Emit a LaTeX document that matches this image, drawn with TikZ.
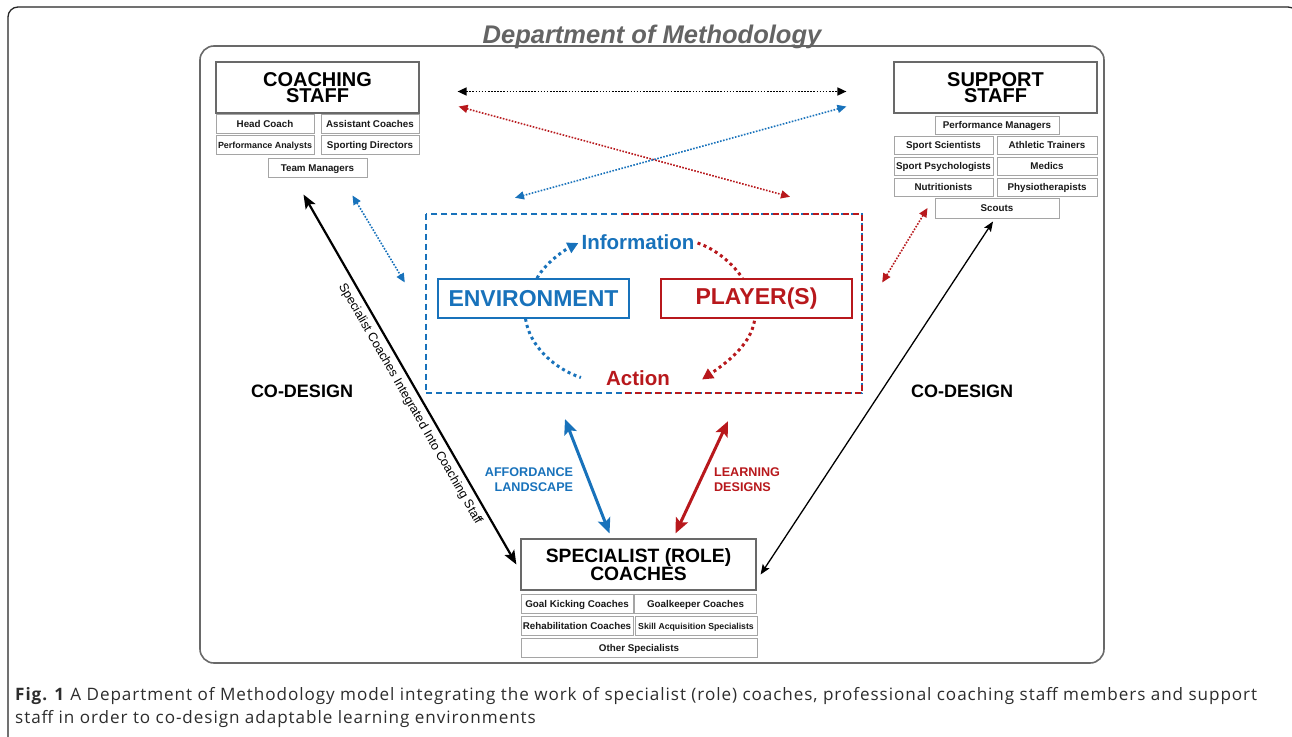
\documentclass[tikz,border=0pt]{standalone}
\usepackage{fontspec}
\setmainfont{Liberation Sans}
\newfontfamily\capfont[LetterSpace=5.5]{Open Sans}
\usetikzlibrary{arrows.meta,calc}
\definecolor{envblue}{RGB}{24,114,187}
\definecolor{plred}{RGB}{184,24,28}
\definecolor{framegray}{RGB}{105,105,105}
\definecolor{subgray}{RGB}{165,165,165}
\definecolor{titlegray}{RGB}{100,100,100}
\definecolor{capgray}{RGB}{45,45,45}
\tikzset{
  mainbox/.style={draw=framegray, line width=1.2pt, fill=white, inner sep=0pt, align=center,
    minimum width=203, minimum height=51, font=\fontsize{20}{16}\selectfont\bfseries},
  subbox/.style={draw=subgray, line width=1pt, inner sep=0pt, minimum height=19,
    text height=7pt, text depth=0pt,
    text=black!90, font=\fontsize{9.8}{11}\selectfont\bfseries},
  loopbox/.style={line width=1.5pt, inner sep=0pt, minimum width=191, minimum height=39,
    font=\fontsize{23}{26}\selectfont\bfseries},
  dotthin/.style={line width=1.6pt, dash pattern=on 1.6pt off 1.5pt,
    {Triangle[length=9pt,width=8pt]}-{Triangle[length=9pt,width=8pt]}},
  dotthick/.style={line width=3pt, dash pattern=on 3pt off 3.4pt},
  loopdash/.style={line width=2.3pt, dash pattern=on 6pt off 4pt},
  bigarrow/.style={line width=3pt, {Stealth[length=15pt,width=13pt,inset=3pt]}-{Stealth[length=15pt,width=13pt,inset=3pt]}},
  labelfont/.style={font=\fontsize{12.6}{15.5}\selectfont\bfseries},
  captext/.style={anchor=base west, inner sep=0pt, text=capgray, font=\capfont\fontsize{17.1}{20}\selectfont},
}
\begin{document}
\begin{tikzpicture}[x=1pt,y=-1pt]
\useasboundingbox (0,0) rectangle (1292,736);
\clip (0,0) rectangle (1292,736);
\fill[white] (0,0) rectangle (1292,736);

% outer page frame
\draw[line width=1.3pt, black!85, rounded corners=10pt] (8,7) rectangle (1298,760);

% department frame and title
\draw[framegray, line width=1.6pt, rounded corners=14pt] (200,46) rectangle (1104,663);
\node[anchor=base, inner sep=0pt, text=titlegray, font=\fontsize{25.5}{30}\selectfont\bfseries\itshape] (title) at (652,43) {Department of Methodology};

% coaching staff
\node[mainbox] (coach) at (317.5,87.5) {COACHING\\STAFF};
\node[subbox, minimum width=98] (hc) at (265,123.5) {Head Coach};
\node[subbox, minimum width=98] (ac) at (370,123.5) {Assistant Coaches};
\node[subbox, minimum width=98, font=\fontsize{8.9}{11}\selectfont\bfseries] (pa) at (265,144.5) {Performance Analysts};
\node[subbox, minimum width=98] (sd) at (370,144.5) {Sporting Directors};
\node[subbox, minimum width=99] (tm) at (317.5,167.5) {Team Managers};

% support staff
\node[mainbox] (support) at (995.5,87.5) {SUPPORT\\STAFF};
\node[subbox, minimum width=124, minimum height=18] (pm) at (997,125) {Performance Managers};
\node[subbox, minimum width=99, minimum height=18] (ss) at (943.5,145) {Sport Scientists};
\node[subbox, minimum width=100, minimum height=18] (at) at (1047,145) {Athletic Trainers};
\node[subbox, minimum width=99, minimum height=18] (sp) at (943.5,166) {Sport Psychologists};
\node[subbox, minimum width=100, minimum height=18] (md) at (1047,166) {Medics};
\node[subbox, minimum width=99, minimum height=18] (nu) at (943.5,187) {Nutritionists};
\node[subbox, minimum width=100, minimum height=18] (ph) at (1047,187) {Physiotherapists};
\node[subbox, minimum width=124, minimum height=20] (scouts) at (997,208) {Scouts};

% specialist coaches
\node[mainbox, minimum width=235, font=\fontsize{19.3}{16}\selectfont\bfseries] (spec) at (638.5,564.5) {SPECIALIST (ROLE)\\COACHES};
\node[subbox, minimum width=112] (gk) at (577,603.5) {Goal Kicking Coaches};
\node[subbox, minimum width=122] (gkc) at (695.5,603.5) {Goalkeeper Coaches};
\node[subbox, minimum width=112] (rc) at (577,625.5) {Rehabilitation Coaches};
\node[subbox, minimum width=122, font=\fontsize{8.7}{11}\selectfont\bfseries] (sas) at (696,625.5) {Skill Acquisition Specialists};
\node[subbox, minimum width=236] (os) at (639,647.5) {Other Specialists};

% central loop
\node[minimum width=436, minimum height=179, inner sep=0pt] (loop) at (644,303.5) {};
\draw[envblue, loopdash] (loop.north west) rectangle (loop.south east);
\draw[plred, loopdash] ($(loop.north)+(-21,0)$) -- (loop.north east) -- (loop.south east) -- ($(loop.south)+(-21,0)$);

\node[loopbox, draw=envblue, text=envblue] (env) at (533.5,298.5) {ENVIRONMENT};
\node[loopbox, draw=plred, text=plred] (player) at (756.5,298.5) {PLAYER(S)};
\node[inner sep=0pt, text=envblue, font=\fontsize{20.5}{24}\selectfont\bfseries] (info) at (638,242) {Information};
\node[inner sep=0pt, text=plred, font=\fontsize{20.5}{24}\selectfont\bfseries] (action) at (638,378.5) {Action};

\draw[envblue, dotthick, -{Triangle[length=11pt,width=11pt]}]
  ($(env.north)+(3.5,0)$) .. controls +(8,-15) and +(-14,7) .. ($(info.west)+(-3,1)$);
\draw[plred, dotthick]
  ($(info.east)+(3,1)$) .. controls +(18,6) and +(-10,-15) .. ($(player.north)+(-14,0)$);
\draw[plred, dotthick, -{Triangle[length=11pt,width=11pt]}]
  ($(player.south)+(-2,2)$) .. controls +(-4,25) and +(22,-15) .. ($(action.east)+(32,1)$);
\draw[envblue, dotthick]
  ($(env.south)+(-8,0)$) .. controls +(4,28) and +(-25,-8) .. ($(action.west)+(-25,-1)$);

% dotted connectors between staff groups and loop
\draw[dotthin, black] ($(coach.east)+(38,4)$) -- ($(support.west)+(-47,4)$);
\draw[dotthin, plred] ($(coach.east)+(39,19)$) -- ($(loop.north)+(146,-17)$);
\draw[dotthin, envblue] ($(support.west)+(-47,19)$) -- ($(loop.north)+(-129,-16)$);
\draw[dotthin, envblue] ($(tm.south)+(35,18)$) -- ($(loop.west)+(-21,-21)$);
\draw[dotthin, plred] ($(scouts.west)+(-7,0)$) -- ($(loop.east)+(20,-21)$);

% solid connectors
\draw[line width=2.2pt, {Stealth[length=14pt,width=11pt,inset=3pt]}-{Stealth[length=14pt,width=11pt,inset=3pt]}]
  ($(tm.south)+(-14,17)$) -- node[pos=0.55, sloped, below=4pt, inner sep=1pt, font=\fontsize{12.5}{14}\selectfont] (intlab) {Specialist Coaches Integrated Into Coaching Staff} ($(spec.west)+(-4,0)$);
\draw[line width=1.3pt, {Stealth[length=10pt,width=8pt,inset=2pt]}-{Stealth[length=10pt,width=8pt,inset=2pt]}]
  ($(scouts.south)+(-4,3)$) -- ($(spec.east)+(4,10)$);
\draw[bigarrow, envblue] ($(loop.south)+(-79,26)$) -- ($(spec.north)+(-29,-5)$);
\draw[bigarrow, plred] ($(loop.south)+(84,28)$) -- ($(spec.north)+(37,-5)$);

% labels
\node[font=\fontsize{18}{20}\selectfont\bfseries] (cdl) at (302,391) {CO-DESIGN};
\node[font=\fontsize{18}{20}\selectfont\bfseries] (cdr) at (962,391) {CO-DESIGN};
\node[labelfont, align=right, text=envblue, inner sep=0pt] (aff) at (529,479.5) {AFFORDANCE\\LANDSCAPE};
\node[labelfont, align=left, text=plred, inner sep=0pt] (ld) at (747,479.5) {LEARNING\\DESIGNS};

% caption
\node[captext] (cap1) at (15,700)
  {\textbf{Fig. 1} A Department of Methodology model integrating the work of specialist (role) coaches, professional coaching staff members and support};
\node[captext] (cap2) at (15,723)
  {staff in order to co-design adaptable learning environments};
\end{tikzpicture}
\end{document}
